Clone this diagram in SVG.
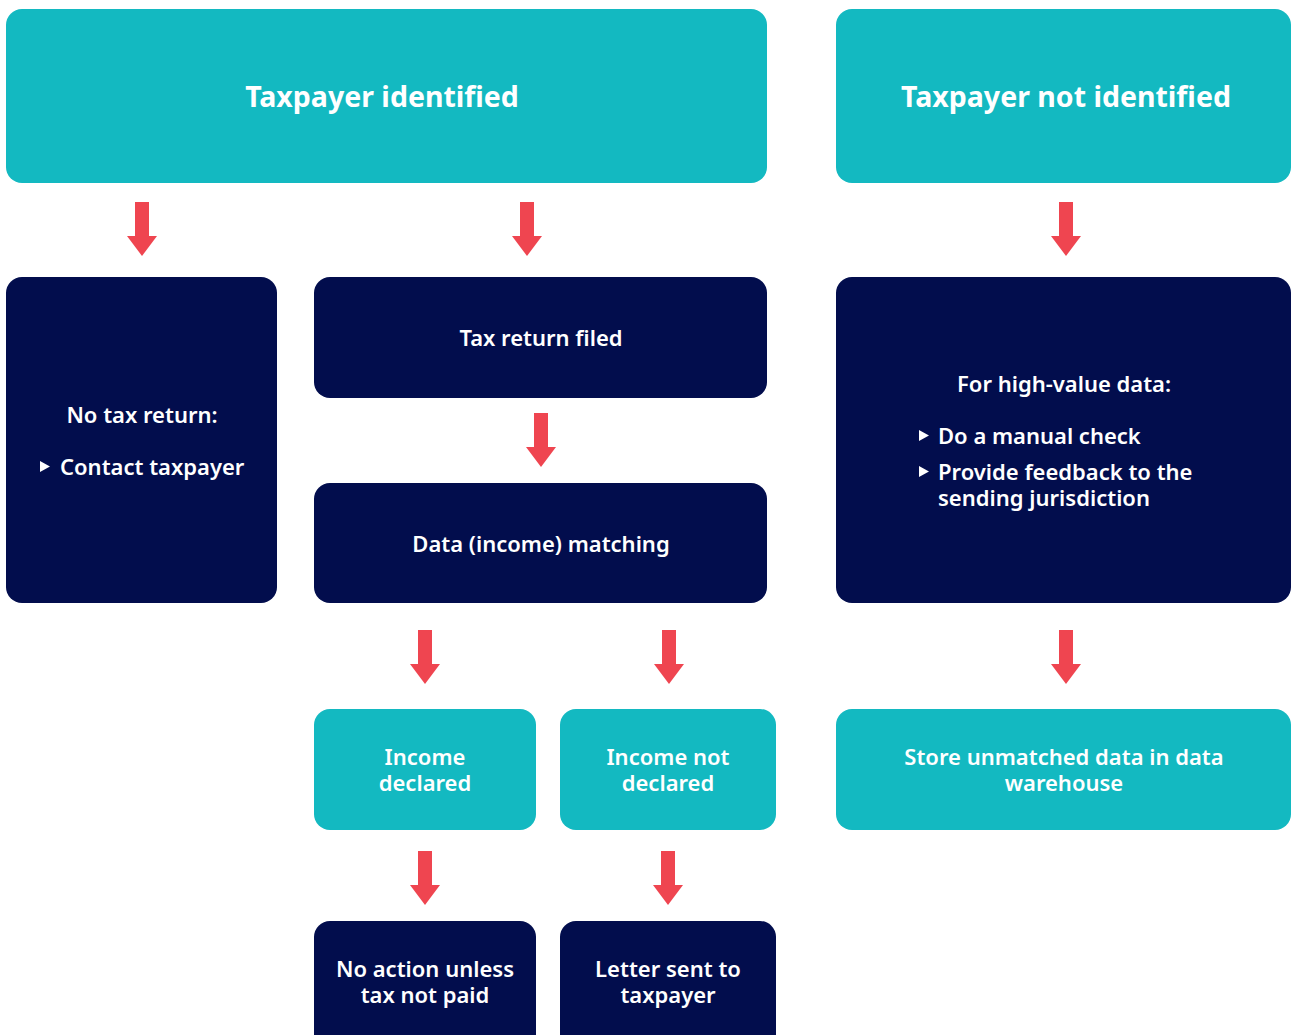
<svg xmlns="http://www.w3.org/2000/svg" width="1292" height="1035" viewBox="0 0 1292 1035">
<defs>
<style>
.teal{fill:#13B9C1}
.navy{fill:#020D4D}
.t{font-family:"Noto Sans","Open Sans","DejaVu Sans",sans-serif;font-weight:600;fill:#ffffff;font-size:22px;text-anchor:middle}
.title{font-size:28.5px;font-weight:700}
.l{text-anchor:start}
.arr{fill:#EF4550}
.bul{fill:#ffffff}
</style>
<path id="a" d="M-7,0 H7 V34 H15 L0,54 L-15,34 H-7 Z"/>
</defs>
<rect width="1292" height="1035" fill="#ffffff"/>
<g id="n-taxpayer-identified"><rect class="teal" x="6" y="9" width="761" height="174" rx="16"/><text class="t title" x="382" y="107">Taxpayer identified</text></g>
<g id="n-taxpayer-not-identified"><rect class="teal" x="836" y="9" width="455" height="174" rx="16"/><text class="t title" x="1066" y="107">Taxpayer not identified</text></g>
<g id="n-no-tax-return"><rect class="navy" x="6" y="277" width="271" height="326" rx="16"/><text class="t" x="142" y="423">No tax return:</text><path class="bul" d="M40,461 L50,466.5 L40,472 Z"/><text class="t l" x="60" y="475">Contact taxpayer</text></g>
<g id="n-tax-return-filed"><rect class="navy" x="314" y="277" width="453" height="121" rx="16"/><text class="t" x="541" y="346">Tax return filed</text></g>
<g id="n-data-matching"><rect class="navy" x="314" y="483" width="453" height="120" rx="16"/><text class="t" x="541" y="552">Data (income) matching</text></g>
<g id="n-high-value"><rect class="navy" x="836" y="277" width="455" height="326" rx="16"/><text class="t" x="1064" y="392">For high-value data:</text><path class="bul" d="M919,430 L929,435.5 L919,441 Z"/><text class="t l" x="938" y="444">Do a manual check</text><path class="bul" d="M919,466 L929,471.5 L919,477 Z"/><text class="t l" x="938" y="480">Provide feedback to the</text><text class="t l" x="938" y="506">sending jurisdiction</text></g>
<g id="n-income-declared"><rect class="teal" x="314" y="709" width="222" height="121" rx="16"/><text class="t" x="425" y="765">Income</text><text class="t" x="425" y="791">declared</text></g>
<g id="n-income-not-declared"><rect class="teal" x="560" y="709" width="216" height="121" rx="16"/><text class="t" x="668" y="765">Income not</text><text class="t" x="668" y="791">declared</text></g>
<g id="n-store-unmatched"><rect class="teal" x="836" y="709" width="455" height="121" rx="16"/><text class="t" x="1064" y="765">Store unmatched data in data</text><text class="t" x="1064" y="791">warehouse</text></g>
<g id="n-no-action"><rect class="navy" x="314" y="921" width="222" height="140" rx="16"/><text class="t" x="425" y="977">No action unless</text><text class="t" x="425" y="1003">tax not paid</text></g>
<g id="n-letter-sent"><rect class="navy" x="560" y="921" width="216" height="140" rx="16"/><text class="t" x="668" y="977">Letter sent to</text><text class="t" x="668" y="1003">taxpayer</text></g>
<g id="connectors" class="arr">
<use href="#a" x="142" y="202"/>
<use href="#a" x="527" y="202"/>
<use href="#a" x="1066" y="202"/>
<use href="#a" x="541" y="413"/>
<use href="#a" x="425" y="630"/>
<use href="#a" x="669" y="630"/>
<use href="#a" x="1066" y="630"/>
<use href="#a" x="425" y="851"/>
<use href="#a" x="668" y="851"/>
</g>
</svg>
